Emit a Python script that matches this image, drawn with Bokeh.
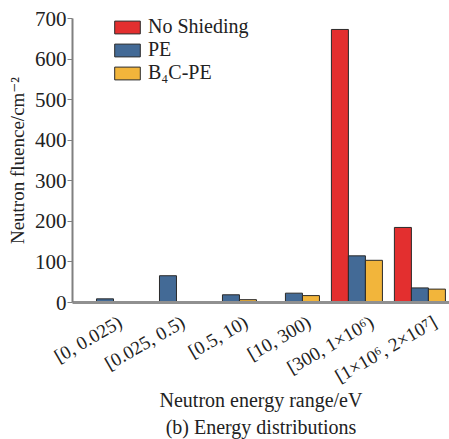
from bokeh.plotting import figure
from bokeh.models import Range1d, FixedTicker, Legend, LegendItem, Title, ColumnDataSource
from bokeh.embed import file_html
from bokeh.resources import INLINE
import math

categories = ["[0, 0.025)", "[0.025, 0.5)", "[0.5, 10)", "[10, 300)", "[300, 1×10⁶)", "[1×10⁶, 2×10⁷]"]
no_shielding = [0, 0, 0, 1, 673, 185]
pe = [9, 66, 19, 23, 115, 36]
b4c_pe = [0, 1, 7, 17, 104, 33]
series_names = ["No Shieding", "PE", "B₄C-PE"]
colors = ["#E32F2F", "#436A96", "#F2B53B"]
y_ticks = [0, 100, 200, 300, 400, 500, 600, 700]

FONT = "'Liberation Serif', 'DejaVu Serif', serif"

p = figure(width=449, height=439, output_backend="svg", toolbar_location=None,
           x_range=Range1d(-0.516, 5.47), y_range=Range1d(0, 700),
           min_border_left=72, min_border_right=0, min_border_top=18, min_border_bottom=137)
p.outline_line_color = None
p.xgrid.grid_line_color = None
p.ygrid.grid_line_color = None

w = 0.27
offsets = [-w, 0, w]
items = []
for vals, name, col, off in zip([no_shielding, pe, b4c_pe], series_names, colors, offsets):
    xs = [i + off for i in range(len(categories))]
    src = ColumnDataSource(dict(x=xs, top=vals))
    r = p.vbar(x="x", top="top", bottom=0, width=w, source=src, fill_color=col,
               line_color="#2a2a2a", line_width=1)
    items.append(LegendItem(label=name, renderers=[r]))

legend = Legend(items=items, label_text_font=FONT,
                label_text_font_size="20px", label_text_color="#222222",
                glyph_width=32, glyph_height=16, spacing=0, padding=0, margin=0,
                label_standoff=5, label_width=115, border_line_color=None,
                background_fill_alpha=0, label_height=16)
legend.location = (39, 218)
p.add_layout(legend)

p.yaxis.ticker = FixedTicker(ticks=y_ticks)
p.yaxis.axis_line_color = "#808080"
p.yaxis.axis_line_width = 2
p.yaxis.major_tick_line_color = "#808080"
p.yaxis.major_tick_out = 5
p.yaxis.major_tick_in = 0
p.yaxis.minor_tick_line_color = None
p.yaxis.major_label_text_font = FONT
p.yaxis.major_label_text_font_size = "21px"
p.yaxis.major_label_text_color = "#222222"
p.yaxis.major_label_standoff = 1
p.yaxis.axis_label = "Neutron fluence/cm⁻²"
p.yaxis.axis_label_text_font = FONT
p.yaxis.axis_label_text_font_size = "19px"
p.yaxis.axis_label_text_font_style = "normal"
p.yaxis.axis_label_text_color = "#222222"
p.yaxis.axis_label_standoff = 4

label_shift = 0.24
p.xaxis.ticker = FixedTicker(ticks=[i + label_shift for i in range(len(categories))])
p.xaxis.major_label_overrides = {i + label_shift: c for i, c in enumerate(categories)}
p.xaxis.axis_line_color = "#909090"
p.xaxis.axis_line_width = 3
p.xaxis.major_tick_line_color = None
p.xaxis.minor_tick_line_color = None
p.xaxis.major_label_orientation = math.radians(30)
p.xaxis.major_label_text_font = FONT
p.xaxis.major_label_text_font_size = "19px"
p.xaxis.major_label_text_color = "#222222"
p.xaxis.major_label_standoff = 12
p.xaxis.axis_label = "Neutron energy range/eV"
p.xaxis.axis_label_text_font = FONT
p.xaxis.axis_label_text_font_size = "20px"
p.xaxis.axis_label_text_font_style = "normal"
p.xaxis.axis_label_text_color = "#222222"
p.xaxis.axis_label_standoff = -10

cap = Title(text="(b) Energy distributions", align="center", text_font=FONT,
            text_font_size="20px", text_font_style="normal", text_color="#222222",
            offset=0, standoff=0)
p.add_layout(cap, "below")

open("out.html", "w").write(file_html(p, INLINE))
